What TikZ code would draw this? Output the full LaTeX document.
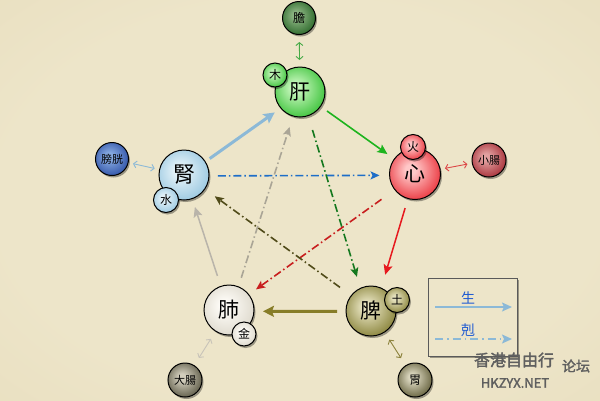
\documentclass[tikz,border=0pt]{standalone}
\usepackage{fontspec}
\newfontfamily\cjk{Noto Sans CJK TC}
\newfontfamily\cjkbold[FakeBold=2]{Noto Sans CJK TC}
\usetikzlibrary{arrows.meta,shadows}
\definecolor{bgin}{RGB}{237,229,201}
\definecolor{bgout}{RGB}{223,209,170}
\pgfdeclareradialshading{bgshade}{\pgfpoint{0bp}{0bp}}{color(0bp)=(bgin); color(25bp)=(bgin); color(71bp)=(bgout)}
\colorlet{orbin}{white}\colorlet{orbout}{black}\colorlet{orbedge}{black}
\pgfdeclareradialshading[orbin,orbout,orbedge]{orb}{\pgfpoint{-5bp}{5bp}}{color(0bp)=(orbin); color(5bp)=(orbin); color(34bp)=(orbout); color(50bp)=(orbedge)}
\definecolor{ganin}{RGB}{195,245,185}\definecolor{ganout}{RGB}{35,185,35}
\definecolor{danin}{RGB}{140,180,130}\definecolor{danout}{RGB}{25,90,25}
\definecolor{shenin}{RGB}{228,242,248}\definecolor{shenout}{RGB}{140,192,220}
\definecolor{pgin}{RGB}{135,170,225}\definecolor{pgout}{RGB}{30,65,155}
\definecolor{xinin}{RGB}{255,200,200}\definecolor{xinout}{RGB}{230,25,35}
\definecolor{xcin}{RGB}{225,160,160}\definecolor{xcout}{RGB}{155,25,35}
\definecolor{feiin}{RGB}{253,251,246}\definecolor{feiout}{RGB}{215,210,196}
\definecolor{dcin}{RGB}{210,205,188}\definecolor{dcout}{RGB}{70,68,48}
\definecolor{piin}{RGB}{228,224,188}\definecolor{piout}{RGB}{118,112,32}
\definecolor{weiin}{RGB}{218,214,190}\definecolor{weiout}{RGB}{78,74,36}
\definecolor{alightblue}{RGB}{140,185,215}
\definecolor{agreen}{RGB}{30,180,30}
\definecolor{ablue}{RGB}{30,110,200}
\definecolor{adkgreen}{RGB}{20,120,30}
\definecolor{ared}{RGB}{230,25,30}
\definecolor{adkred}{RGB}{200,30,30}
\definecolor{adkolive}{RGB}{80,75,25}
\definecolor{agreydd}{RGB}{170,165,150}
\definecolor{agrey}{RGB}{185,180,170}
\definecolor{aolive}{RGB}{135,125,40}
\definecolor{legblue}{RGB}{30,90,210}
\definecolor{wmgrey}{RGB}{95,95,95}
\begin{document}
\begin{tikzpicture}[x=1pt,y=-1pt,
  orb/.style n args={3}{circle, draw=black, line width=1pt, inner sep=0pt, outer sep=0pt,
    minimum size=#1, /utils/exec={\colorlet{orbin}{#2}\colorlet{orbout}{#3}\colorlet{orbedge}{#3!85!black}}, shading=orb,
    drop shadow={shadow xshift=1.5pt, shadow yshift=-2pt, opacity=0.35, fill=black}},
  lbl/.style={font=\cjk\fontsize{#1}{#1}\selectfont},
  wm/.style={font=\cjkbold\fontsize{#1}{#1}\selectfont, text=wmgrey},
  link/.style={line width=0.9pt, {Straight Barb[length=3pt,width=7pt]}-{Straight Barb[length=3pt,width=7pt]}},
  thickarr/.style={line width=3pt, -{Stealth[length=11pt,width=11pt,inset=2pt]}},
  solidarr/.style={line width=1.6pt, -{Stealth[length=10pt,width=9pt,inset=2pt]}},
  ddarr/.style={line width=1.6pt, dash pattern=on 8pt off 3pt on 1.5pt off 3pt, -{Stealth[length=9pt,width=8pt,inset=2pt]}},
]
\path[shading=bgshade] (0,0) rectangle (600,400);
\useasboundingbox (0,0) rectangle (600,400);

% organs
\node[orb={33pt}{danin}{danout}, lbl=12] (dan) at (299,18) {膽};
\node[orb={50pt}{ganin}{ganout}, lbl=21] (gan) at (300,92) {肝};
\node[orb={24pt}{ganin}{ganout}, lbl=12] (mu) at (275,75) {木};
\node[orb={50pt}{shenin}{shenout}, lbl=22] (shen) at (184,175) {腎};
\node[orb={25pt}{shenin}{shenout}, lbl=12] (shui) at (166,200) {水};
\node[orb={33pt}{pgin}{pgout}, lbl=11] (pg) at (112,159) {膀胱};
\node[orb={51pt}{xinin}{xinout}, lbl=21] (xin) at (415,174) {心};
\node[orb={25pt}{xinin}{xinout}, lbl=12] (huo) at (413,147) {火};
\node[orb={34pt}{xcin}{xcout}, lbl=11] (xc) at (489,160) {小腸};
\node[orb={50pt}{feiin}{feiout}, lbl=21] (fei) at (229,310) {肺};
\node[orb={24pt}{feiin}{feiout}, lbl=12] (jin) at (244,334) {金};
\node[orb={34pt}{dcin}{dcout}, lbl=11] (dc) at (185,380) {大腸};
\node[orb={50pt}{piin}{piout}, lbl=21] (pi) at (371,311) {脾};
\node[orb={25pt}{piin}{piout}, lbl=12] (tu) at (397,300) {土};
\node[orb={34pt}{weiin}{weiout}, lbl=12] (wei) at (415,380) {胃};

% paired organs
\draw[link, color={rgb,255:red,70;green,170;blue,70}, shorten <=7.5pt, shorten >=7pt] (dan) -- (gan);
\draw[link, alightblue, shorten <=5pt, shorten >=5pt] (pg) -- (shen);
\draw[link, color={rgb,255:red,220;green,70;blue,70}, shorten <=5pt, shorten >=5pt] (xin) -- (xc);
\draw[link, color={rgb,255:red,200;green,195;blue,185}, shorten <=9pt, shorten >=9pt] (fei) -- (dc);
\draw[link, color={rgb,255:red,140;green,130;blue,60}, shorten <=9pt, shorten >=9pt] (pi) -- (wei);

% generating cycle
\draw[thickarr, alightblue, shorten <=5.5pt, shorten >=7.5pt] (shen.32) -- (gan.220);
\draw[solidarr, agreen, shorten <=8pt, shorten >=8.5pt] (gan.-35) -- (xin.144);
\draw[solidarr, ared, line width=1.5pt, shorten <=10pt, shorten >=14pt] (xin.254) -- (pi.66);
\draw[thickarr, aolive, shorten <=9pt, shorten >=9pt] (pi.181) -- (fei.-3);
\draw[solidarr, agrey, line width=1.5pt, shorten <=11pt, shorten >=8.8pt] (fei.109) -- (shen.-71);

% controlling cycle
\draw[ddarr, ablue, shorten <=9pt, shorten >=10pt] (shen.-2) -- (xin.183);
\draw[ddarr, adkgreen, shorten <=15pt, shorten >=12pt] (gan.-71) -- (pi.115);
\draw[ddarr, adkred, shorten <=16.5pt, shorten >=9pt] (xin.218) -- (fei.38);
\draw[ddarr, adkolive, shorten <=14pt, shorten >=12.4pt] (pi.142) -- (shen.-34);
\draw[ddarr, agreydd, shorten <=9.5pt, shorten >=11.4pt] (fei.68) -- (gan.254);

% legend
\node[draw={rgb,255:red,90;green,90;blue,90}, line width=1pt, minimum width=89pt, minimum height=78pt,
  inner sep=0pt, drop shadow={shadow xshift=2pt, shadow yshift=-2pt, opacity=0.35, fill=black}, fill=bgin] (leg) at (472.5,317) {};
\node[lbl=14, text=legblue] (sheng) at (468,298) {生};
\node[lbl=14, text=legblue] (ke) at (468,330) {剋};
\coordinate (s1) at (435,307);
\coordinate (s2) at (512,307);
\coordinate (k1) at (435,339);
\coordinate (k2) at (512,339);
\draw[alightblue, line width=1.5pt, -{Stealth[length=10pt,width=9pt,inset=2pt]}] (s1) -- (s2);
\draw[alightblue, line width=1.5pt, dash pattern=on 8pt off 4pt on 1.5pt off 4pt, -{Stealth[length=10pt,width=9pt,inset=2pt]}] (k1) -- (k2);

% watermark
\node[wm=16] (wm1) at (514,360) {香港自由行};
\node[wm=14] (wm2) at (576,366) {论坛};
\node[wm=13] (wm3) at (515,383) {HKZYX.NET};
\end{tikzpicture}
\end{document}
